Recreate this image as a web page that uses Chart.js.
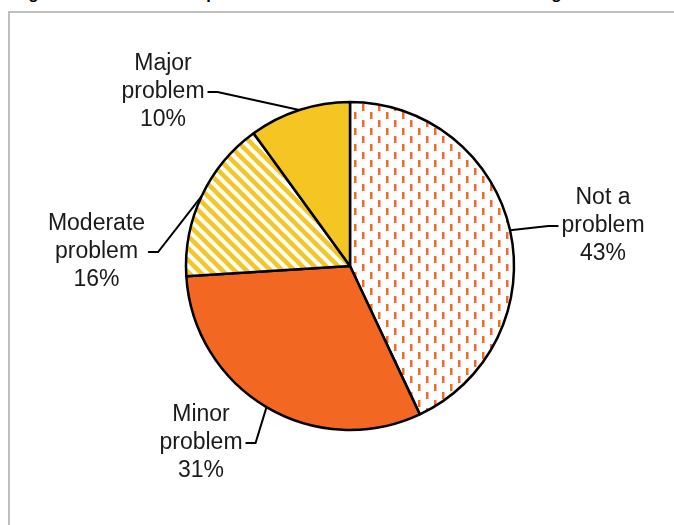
<!DOCTYPE html>
<html>
<head>
<meta charset="utf-8">
<title>Student perceptions pie</title>
<script src="https://cdn.jsdelivr.net/npm/chart.js@4.4.1/dist/chart.umd.min.js"></script>
<style>
  html, body { margin: 0; padding: 0; background: #fff; overflow: hidden; }
  #wrap { position: relative; width: 674px; height: 525px; }
  #title {
    position: absolute; left: 14px; top: -15px; white-space: nowrap;
    font: bold 16.4px "Liberation Sans", Arial, sans-serif; line-height: 16.4px; color: #000;
  }
  #frame {
    position: absolute; left: 8px; top: 10.5px; width: 700px; height: 560px;
    border-left: 2.5px solid #bfbfbf; border-top: 2.5px solid #bfbfbf;
  }
  #pie { position: absolute; left: 0; top: 0; }
</style>
</head>
<body>
<div id="wrap">
  <div id="title">Figure 12. Student Perceptions of Issues Related to Distance Learning</div>
  <div id="frame"></div>
  <canvas id="pie" width="674" height="525"></canvas>
</div>
<script>
// values
const categories = ['Not a problem', 'Minor problem', 'Moderate problem', 'Major problem'];
const shares = [43, 31, 16, 10];
const labelLines = [['Not a', 'problem'], ['Minor', 'problem'], ['Moderate', 'problem'], ['Major', 'problem']];

// label placement, offset from the pie centre (px)
const labelOffsets = [[253, -40], [-149, 177], [-253.5, -14], [-187, -174]];

const ORANGE = '#F26722';
const YELLOW = '#F5C623';

document.addEventListener("DOMContentLoaded", function() {
    const ctx = document.getElementById('pie').getContext('2d');

    // white with short vertical orange dashes
    function dashPattern() {
        const c = document.createElement('canvas');
        c.width = 16; c.height = 16;
        const g = c.getContext('2d');
        g.fillStyle = '#fff';
        g.fillRect(0, 0, 16, 16);
        g.fillStyle = '#F26B2A';
        g.fillRect(2, 0, 2.5, 7);
        g.fillRect(10, 8, 2.5, 7);
        return ctx.createPattern(c, 'repeat');
    }

    // white with wide downward diagonal yellow stripes
    function stripePattern() {
        const s = 12;
        const c = document.createElement('canvas');
        c.width = s; c.height = s;
        const g = c.getContext('2d');
        g.fillStyle = '#fff';
        g.fillRect(0, 0, s, s);
        g.strokeStyle = YELLOW;
        g.lineWidth = 4.5;
        for (let k = -1; k <= 1; k++) {
            g.beginPath();
            g.moveTo(-2, -2 + k * s);
            g.lineTo(s + 2, s + 2 + k * s);
            g.stroke();
        }
        return ctx.createPattern(c, 'repeat');
    }

    const fills = [dashPattern(), ORANGE, stripePattern(), YELLOW];

    // callout labels with leader lines
    const calloutPlugin = {
        id: 'callouts',
        afterDatasetsDraw(chart) {
            const c = chart.ctx;
            const arcs = chart.getDatasetMeta(0).data;
            c.save();
            c.font = '23px "Liberation Sans", Arial, sans-serif';
            c.textAlign = 'center';
            c.textBaseline = 'alphabetic';
            arcs.forEach((arc, i) => {
                const p = arc.getProps(['x', 'y', 'startAngle', 'endAngle', 'outerRadius'], true);
                const mid = (p.startAngle + p.endAngle) / 2;
                const ax = p.x + Math.cos(mid) * p.outerRadius;
                const ay = p.y + Math.sin(mid) * p.outerRadius;
                const cx = p.x + labelOffsets[i][0];
                const cy = p.y + labelOffsets[i][1];
                const lines = labelLines[i].concat([shares[i] + '%']);
                const hw = Math.max(...lines.map(t => c.measureText(t).width)) / 2 + 3;

                const dir = cx < ax ? 1 : -1;
                const sx = cx + dir * hw;
                const ex = sx + dir * 10;
                c.strokeStyle = '#000';
                c.lineWidth = 2;
                c.beginPath();
                c.moveTo(sx, cy);
                c.lineTo(ex, cy);
                c.lineTo(ax, ay);
                c.stroke();

                c.fillStyle = '#1a1a1a';
                lines.forEach((t, j) => {
                    c.fillText(t, cx, cy + 6 + (j - 1) * 28);
                });
            });
            c.restore();
        }
    };

    new Chart(ctx, {
        type: 'pie',
        data: {
            labels: categories,
            datasets: [{
                data: shares,
                backgroundColor: fills,
                borderColor: '#000',
                borderWidth: 2.5,
                radius: 164
            }]
        },
        options: {
            responsive: false,
            animation: false,
            events: [],
            layout: { padding: { left: 100, right: 74, top: 90, bottom: 83 } },
            plugins: {
                legend: { display: false },
                tooltip: { enabled: false }
            }
        },
        plugins: [calloutPlugin]
    });
});
</script>
</body>
</html>
